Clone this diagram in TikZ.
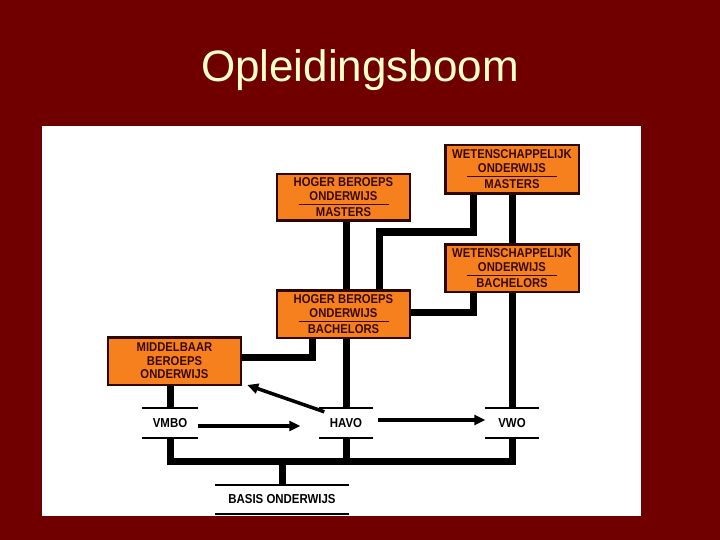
\documentclass[tikz,border=0pt]{standalone}
\usepackage{fontspec}
\setmainfont{Liberation Sans}
\newfontfamily\labelfont[FakeStretch=0.88]{Liberation Sans}
\usetikzlibrary{arrows.meta}
\definecolor{bg}{RGB}{112,0,0}
\definecolor{titlecol}{RGB}{255,255,204}
\definecolor{boxfill}{RGB}{247,128,30}
\definecolor{boxline}{RGB}{45,8,0}
\definecolor{boxtext}{RGB}{55,10,0}
\begin{document}
\begin{tikzpicture}[x=1pt,y=-1pt,
  box/.style={draw=boxline, line width=2.5pt, fill=boxfill, minimum width=133pt, minimum height=47.5pt, inner sep=0pt, align=center, text=boxtext, font=\labelfont\fontsize{12.8}{14}\selectfont\bfseries},
  level/.style={minimum width=55pt, minimum height=30pt, inner sep=0pt, font=\labelfont\fontsize{13}{14}\selectfont\bfseries},
  levelline/.style={line width=2pt},
  bus/.style={line width=7pt, line join=miter},
  move/.style={line width=3.5pt, -{Triangle[length=11pt,width=10pt]}}
]
\fill[bg] (0,0) rectangle (720,540);
\useasboundingbox (0,0) rectangle (720,540);
\fill[white] (42,126) rectangle (641,516);
\node[text=titlecol, font=\fontsize{44}{50}\selectfont, inner sep=0pt] (title) at (360,70) {Opleidingsboom};

% boxes
\node[box, minimum height=46.5pt] (hbom) at (343.5,197.5) {HOGER BEROEPS\\ONDERWIJS\\[-10pt]\rule{90pt}{0.8pt}\\[-2pt]MASTERS};
\node[box] (hbob) at (343.5,314) {HOGER BEROEPS\\ONDERWIJS\\[-10pt]\rule{90pt}{0.8pt}\\[-2pt]BACHELORS};
\node[box, font=\labelfont\fontsize{12.8}{13.5}\selectfont\bfseries] (mbo) at (174.5,361) {MIDDELBAAR\\BEROEPS\\ONDERWIJS};
\node[box, minimum width=133.5pt, minimum height=48.5pt] (wom) at (512,169.5) {WETENSCHAPPELIJK\\ONDERWIJS\\[-10pt]\rule{90pt}{0.8pt}\\[-2pt]MASTERS};
\node[box, minimum width=133.5pt] (wob) at (512,268) {WETENSCHAPPELIJK\\ONDERWIJS\\[-10pt]\rule{90pt}{0.8pt}\\[-2pt]BACHELORS};

% school levels
\node[level] (vmbo) at (170,423) {VMBO};
\node[level, minimum width=53pt] (havo) at (346,423) {HAVO};
\node[level, minimum width=53pt] (vwo) at (512,423) {VWO};
\node[level, minimum width=133pt, minimum height=29pt] (basis) at (282,499.5) {BASIS ONDERWIJS};
\foreach \n in {vmbo,havo,vwo,basis}{
  \draw[levelline] (\n.north west) -- (\n.north east) (\n.south west) -- (\n.south east);
}

% tree connectors
\draw[bus] (hbom.south -| havo.north) -- (hbob.north -| havo.north);
\coordinate (k1) at (379,232);
\draw[bus] ([xshift=-39pt]wom.south) |- (k1) -- (k1 |- hbob.north);
\draw[bus] (wom.south) -- (wob.north);
\draw[bus] ([xshift=-39pt]wob.south) |- ([yshift=2pt]hbob.east);
\draw[bus] ([xshift=-31.5pt]hbob.south) |- ([yshift=4pt]mbo.east);
\draw[bus] (hbob.south -| havo.north) -- (havo.north);
\draw[bus] (mbo.south -| vmbo.north) -- (vmbo.north);
\draw[bus] (wob.south -| vwo.north) -- (vwo.north);
\coordinate (bus) at (282,461);
\draw[bus] (vmbo.south) |- (bus) -| (vwo.south);
\draw[bus] (havo.south) -- (havo.south |- bus);
\draw[bus] (bus) -- (basis.north);

% moves between levels
\draw[move, shorten >=19pt] ([yshift=-3pt]vmbo.east) -- ([yshift=-3pt]havo.west);
\draw[move, shorten <=5.5pt] ([yshift=3pt]havo.east) -- ([yshift=3pt]vwo.west);
\draw[move] ([xshift=5pt,yshift=-4pt]havo.north west) -- ([xshift=5pt,yshift=1pt]mbo.south east);
\end{tikzpicture}
\end{document}
